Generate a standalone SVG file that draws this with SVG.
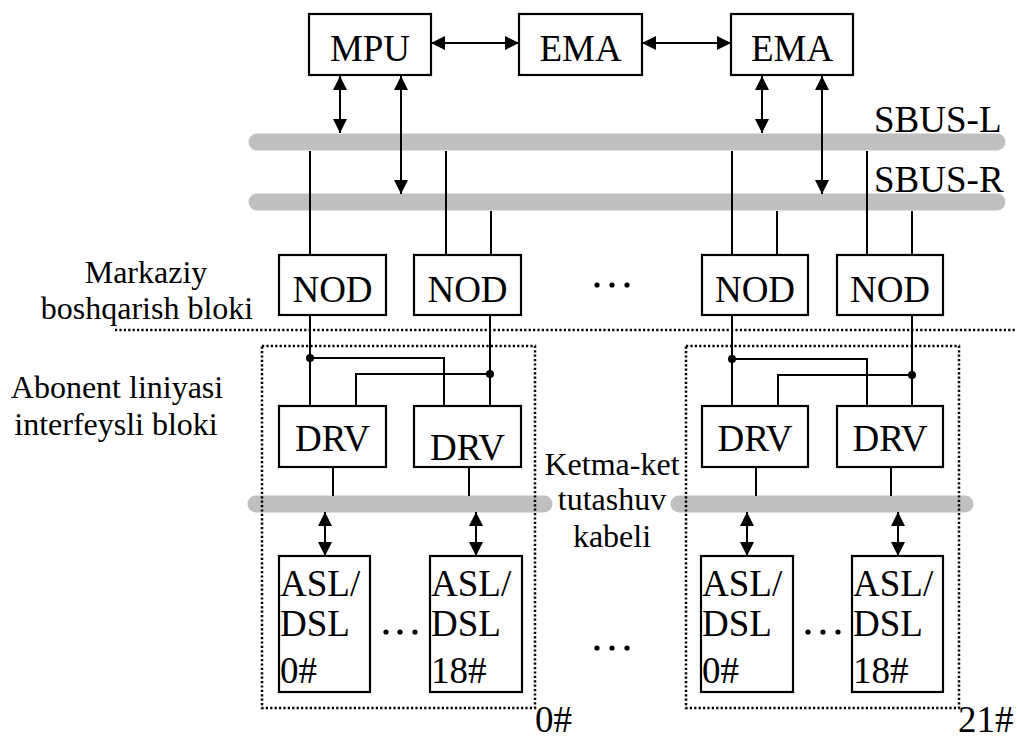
<svg xmlns="http://www.w3.org/2000/svg" width="1017" height="738" viewBox="0 0 1017 738" font-family="Liberation Serif, DejaVu Serif, serif">
<style>
.box{fill:#fff;stroke:#000;stroke-width:2.2}
.t{font-size:37px;fill:#000}
.tc{text-anchor:middle}
.lab{font-size:32px;fill:#000;text-anchor:middle}
.bus{stroke:#c0c0c0;stroke-width:17;stroke-linecap:round;fill:none}
.ln{stroke:#000;stroke-width:2;fill:none}
.ar{stroke:#000;stroke-width:2;fill:none;marker-start:url(#ah);marker-end:url(#ah)}
.dot{stroke:#000;stroke-width:2.5;stroke-dasharray:2.2 2.2;fill:none}
</style>
<defs>
<marker id="ah" viewBox="0 0 10 10" refX="10" refY="5" markerWidth="15" markerHeight="14" markerUnits="userSpaceOnUse" orient="auto-start-reverse">
<path d="M0,0 L10,5 L0,10 z" fill="#000"/>
</marker>
</defs>
<rect width="1017" height="738" fill="#fff"/>
<g id="buses">
<line class="bus" x1="257" y1="142" x2="997" y2="142"/>
<line class="bus" x1="257" y1="202" x2="997" y2="202"/>
<line class="bus" x1="256" y1="504" x2="544" y2="504"/>
<line class="bus" x1="679" y1="504" x2="965" y2="504"/>
</g>
<g id="dotted">
<line class="dot" x1="115" y1="330" x2="1017" y2="330"/>
<rect class="dot" x="262" y="346" width="273" height="362"/>
<rect class="dot" x="686" y="346" width="273" height="362"/>
</g>
<g id="connectors">
<line class="ar" x1="431" y1="43" x2="519" y2="43"/>
<line class="ar" x1="642" y1="43" x2="731" y2="43"/>
<line class="ar" x1="340" y1="76" x2="340" y2="133"/>
<line class="ar" x1="401" y1="76" x2="401" y2="194"/>
<line class="ar" x1="762" y1="76" x2="762" y2="133"/>
<line class="ar" x1="822" y1="76" x2="822" y2="194"/>
<line class="ln" x1="310" y1="151" x2="310" y2="255"/>
<line class="ln" x1="446" y1="151" x2="446" y2="255"/>
<line class="ln" x1="491" y1="211" x2="491" y2="255"/>
<line class="ln" x1="732" y1="151" x2="732" y2="255"/>
<line class="ln" x1="777" y1="211" x2="777" y2="255"/>
<line class="ln" x1="867" y1="151" x2="867" y2="255"/>
<line class="ln" x1="912" y1="211" x2="912" y2="255"/>
<line class="ln" x1="310" y1="315" x2="310" y2="406"/>
<path class="ln" d="M310,358 H444 V406"/>
<line class="ln" x1="490" y1="315" x2="490" y2="406"/>
<path class="ln" d="M490,374 H356 V406"/>
<circle cx="310" cy="358" r="4" fill="#000"/>
<circle cx="490" cy="374" r="4" fill="#000"/>
<line class="ln" x1="732" y1="315" x2="732" y2="406"/>
<path class="ln" d="M732,359 H867 V406"/>
<line class="ln" x1="912" y1="315" x2="912" y2="406"/>
<path class="ln" d="M912,375 H778 V406"/>
<circle cx="732" cy="359" r="4" fill="#000"/>
<circle cx="912" cy="375" r="4" fill="#000"/>
<line class="ln" x1="333" y1="467" x2="333" y2="496"/>
<line class="ln" x1="469" y1="467" x2="469" y2="496"/>
<line class="ln" x1="756" y1="467" x2="756" y2="496"/>
<line class="ln" x1="891" y1="467" x2="891" y2="496"/>
<line class="ar" x1="325" y1="512" x2="325" y2="556"/>
<line class="ar" x1="476" y1="512" x2="476" y2="556"/>
<line class="ar" x1="747" y1="512" x2="747" y2="556"/>
<line class="ar" x1="898" y1="512" x2="898" y2="556"/>
</g>
<g id="mpu"><rect class="box" x="309" y="14" width="122" height="61"/><text class="t tc" x="370" y="61">MPU</text></g>
<g id="ema1"><rect class="box" x="519" y="14" width="123" height="61"/><text class="t tc" x="580.5" y="61">EMA</text></g>
<g id="ema2"><rect class="box" x="731" y="14" width="122" height="61"/><text class="t tc" x="792" y="61">EMA</text></g>
<g id="sbus-labels"><text class="t" x="874" y="132">SBUS-L</text><text class="t" x="874" y="192">SBUS-R</text></g>
<g id="nod1"><rect class="box" x="279" y="255" width="107" height="60"/><text class="t tc" x="332.5" y="302">NOD</text></g>
<g id="nod2"><rect class="box" x="414" y="255" width="107" height="60"/><text class="t tc" x="467.5" y="302">NOD</text></g>
<g id="nod3"><rect class="box" x="702" y="255" width="106" height="60"/><text class="t tc" x="755" y="302">NOD</text></g>
<g id="nod4"><rect class="box" x="837" y="255" width="106" height="60"/><text class="t tc" x="890" y="302">NOD</text></g>
<g id="drv1"><rect class="box" x="279" y="406" width="107" height="61"/><text class="t tc" x="332.5" y="451">DRV</text></g>
<g id="drv2"><rect class="box" x="414" y="406" width="107" height="61"/><text class="t tc" x="467.5" y="460">DRV</text></g>
<g id="drv3"><rect class="box" x="702" y="406" width="106" height="61"/><text class="t tc" x="755" y="451">DRV</text></g>
<g id="drv4"><rect class="box" x="837" y="406" width="106" height="61"/><text class="t tc" x="890" y="451">DRV</text></g>
<g id="asl1"><rect class="box" x="279" y="556" width="91" height="136"/><text class="t" x="280" y="596">ASL/</text><text class="t" x="280" y="636">DSL</text><text class="t" x="280" y="683">0#</text></g>
<g id="asl2"><rect class="box" x="430" y="556" width="92" height="136"/><text class="t" x="431" y="596">ASL/</text><text class="t" x="431" y="636">DSL</text><text class="t" x="431" y="683">18#</text></g>
<g id="asl3"><rect class="box" x="701" y="556" width="92" height="136"/><text class="t" x="702" y="596">ASL/</text><text class="t" x="702" y="636">DSL</text><text class="t" x="702" y="683">0#</text></g>
<g id="asl4"><rect class="box" x="852" y="556" width="91" height="136"/><text class="t" x="853" y="596">ASL/</text><text class="t" x="853" y="636">DSL</text><text class="t" x="853" y="683">18#</text></g>
<g id="ellipses" fill="#000">
<circle cx="597" cy="285" r="2.6"/><circle cx="612" cy="285" r="2.6"/><circle cx="627" cy="285" r="2.6"/>
<circle cx="597" cy="648" r="2.6"/><circle cx="612" cy="648" r="2.6"/><circle cx="627" cy="648" r="2.6"/>
<circle cx="386" cy="632" r="2.6"/><circle cx="400" cy="632" r="2.6"/><circle cx="415" cy="632" r="2.6"/>
<circle cx="808" cy="632" r="2.6"/><circle cx="823" cy="632" r="2.6"/><circle cx="838" cy="632" r="2.6"/>
</g>
<g id="labels">
<text class="lab" x="146" y="283">Markaziy</text>
<text class="lab" x="147" y="319">boshqarish bloki</text>
<text class="lab" x="117" y="398">Abonent liniyasi</text>
<text class="lab" x="116" y="435">interfeysli bloki</text>
<text class="lab" x="612" y="475">Ketma-ket</text>
<text class="lab" x="612" y="510">tutashuv</text>
<text class="lab" x="612" y="547">kabeli</text>
<text class="t" x="535" y="732">0#</text>
<text class="t" x="958" y="732">21#</text>
</g>
</svg>
